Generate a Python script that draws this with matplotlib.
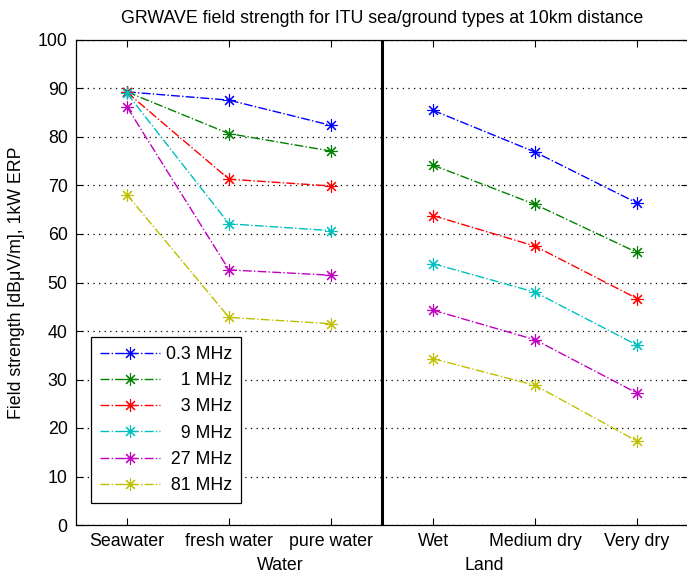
import matplotlib
matplotlib.use("Agg")
import matplotlib.pyplot as plt
import matplotlib.transforms as mtransforms

plt.rcParams['font.family'] = ['Liberation Sans', 'DejaVu Sans']

categories = ["Seawater", "fresh water", "pure water", "Wet", "Medium dry", "Very dry"]
group_labels = ["Water", "Land"]
freq_labels = ["0.3 MHz", "\u2007\u20081 MHz", "\u2007\u20083 MHz", "\u2007\u20089 MHz", "\u200827 MHz", "\u200881 MHz"]

water_03 = [89.3, 87.6, 82.4]
land_03 = [85.5, 76.9, 66.4]
water_1 = [89.3, 80.7, 77.1]
land_1 = [74.2, 66.1, 56.2]
water_3 = [89.2, 71.3, 69.9]
land_3 = [63.8, 57.5, 46.7]
water_9 = [89.0, 62.1, 60.7]
land_9 = [53.9, 48.0, 37.1]
water_27 = [86.2, 52.6, 51.5]
land_27 = [44.3, 38.2, 27.2]
water_81 = [68.1, 42.8, 41.5]
land_81 = [34.3, 28.8, 17.3]

water_series = [water_03, water_1, water_3, water_9, water_27, water_81]
land_series = [land_03, land_1, land_3, land_9, land_27, land_81]
colors = [(0, 0, 1), (0, 0.5, 0), (1, 0, 0), (0, 0.75, 0.75), (0.75, 0, 0.75), (0.75, 0.75, 0)]

W, H = 687, 575
fig = plt.figure(figsize=(W / 100, H / 100), dpi=100)
ax = fig.add_axes([76 / W, 50 / H, 612 / W, 485 / H])

fs = 12.8
water_x = [1, 2, 3]
land_x = [4, 5, 6]
marker = (8, 2, 0)
for ws, ls_, c, lab in zip(water_series, land_series, colors, freq_labels):
    ax.plot(water_x, ws, linestyle='-.', color=c, marker=marker, markersize=9,
            markeredgewidth=0.8, linewidth=1.0, label=lab)
    ax.plot(land_x, ls_, linestyle='-.', color=c, marker=marker, markersize=9,
            markeredgewidth=0.8, linewidth=1.0)

ax.axvline(3.5, color='black', linewidth=2.2)

ax.set_xlim(0.5, 6.5)
ax.set_ylim(0, 100)
ax.set_xticks([1, 2, 3, 4, 5, 6])
ax.set_xticklabels(categories, fontsize=fs)
ax.set_yticks(range(0, 101, 10))
ax.set_yticklabels([str(v) for v in range(0, 101, 10)], fontsize=fs)
ax.tick_params(direction='in', top=True, right=True, length=5, width=0.8, pad=6)
ax.yaxis.grid(True, linestyle=(0, (1, 3.5)), color='black', linewidth=0.9)
for s in ax.spines.values():
    s.set_linewidth(0.9)

trans = mtransforms.blended_transform_factory(ax.transData, ax.transAxes)
ax.text(2.5, -0.083, group_labels[0], transform=trans, ha='center', va='center', fontsize=fs)
ax.text(4.5, -0.083, group_labels[1], transform=trans, ha='center', va='center', fontsize=fs)

ax.set_ylabel("Field strength [dB\u03bcV/m], 1kW ERP", fontsize=fs)
ax.yaxis.set_label_coords(-0.083, 0.5)
ax.set_title("GRWAVE field strength for ITU sea/ground types at 10km distance", fontsize=fs, pad=12)

leg = ax.legend(loc='upper left', bbox_to_anchor=((91 - 76) / 612, (525 - 337) / 485),
                borderaxespad=0, fancybox=False, edgecolor='black', framealpha=1,
                fontsize=fs, handlelength=3.4, labelspacing=0.52, handletextpad=0.3,
                borderpad=0.5)
leg.get_frame().set_linewidth(0.9)

fig.savefig("out.png", dpi=100)
